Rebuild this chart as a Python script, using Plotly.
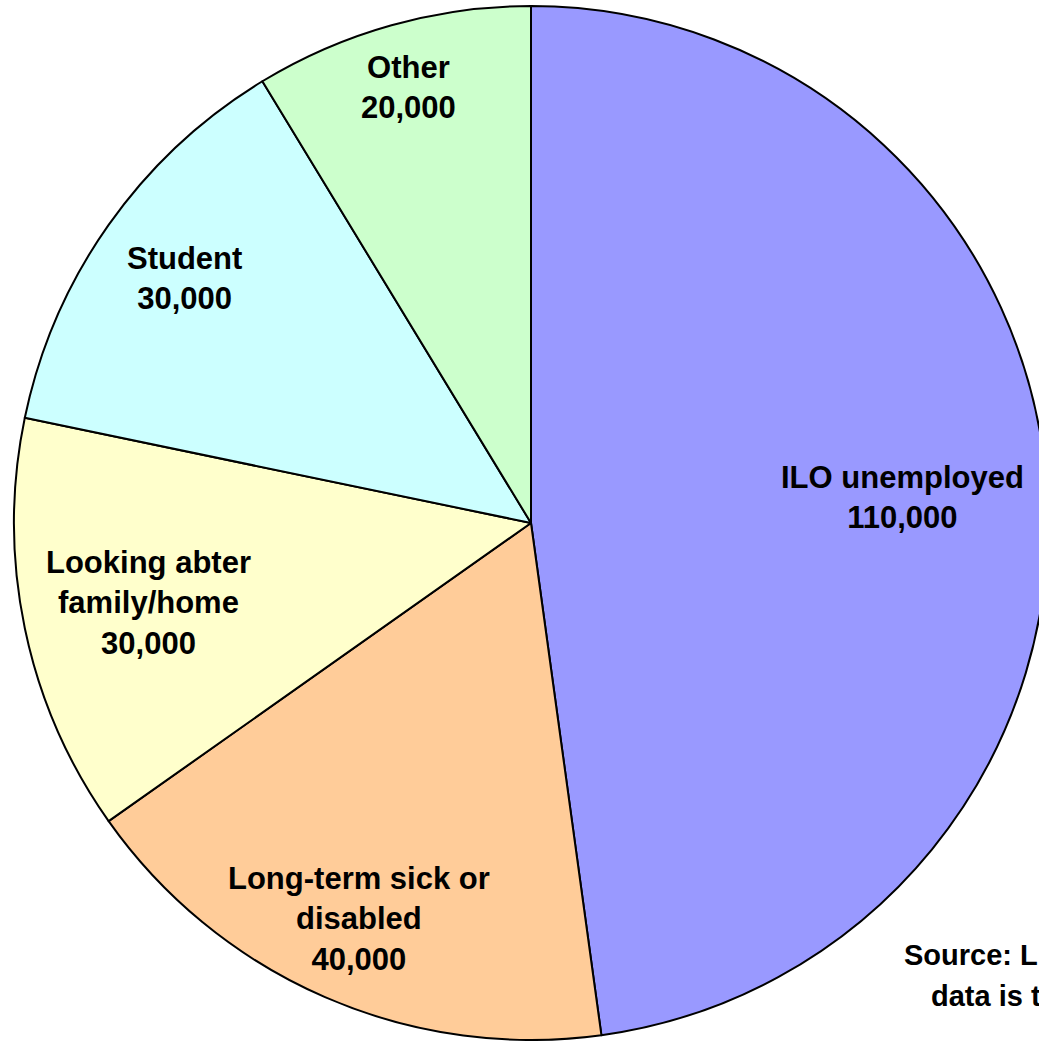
import math
import plotly.graph_objects as go

# data
labels = ["ILO unemployed", "Long-term sick or<br>disabled", "Looking abter<br>family/home", "Student", "Other"]
values = [110000, 40000, 30000, 30000, 20000]
colors = ["#9999FF", "#FFCC99", "#FFFFCC", "#CCFFFF", "#CCFFCC"]

# how far out (fraction of radius) each label sits
label_r = [0.72, 0.835, 0.756, 0.82, 0.875]

W, H = 1100, 1041
cx, cy, R = 531, 523, 517

fig = go.Figure(go.Pie(
    labels=labels,
    values=values,
    marker=dict(colors=colors, line=dict(color="black", width=2)),
    sort=False,
    direction="clockwise",
    rotation=0,
    textinfo="none",
    hoverinfo="label+value",
    domain=dict(x=[(cx - R) / W, (cx + R) / W], y=[max(0, (H - cy - R) / H), (H - cy + R) / H]),
))

# labels placed at each slice's mid-angle
total = sum(values)
start = 0
annotations = []
for lab, val, f in zip(labels, values, label_r):
    mid = (start + val / 2) / total * 2 * math.pi
    start += val
    px = cx + f * R * math.sin(mid)
    py = cy - f * R * math.cos(mid)
    annotations.append(dict(
        x=px / W, y=(H - py) / H, xref="paper", yref="paper",
        xanchor="center", yanchor="middle", showarrow=False,
        text="<b>%s<br>%s</b>" % (lab, format(val, ",")),
        font=dict(size=31, color="black"),
    ))

# source note, cut off by the right edge as in the original
annotations.append(dict(x=902 / W, y=(H - 955) / H, xref="paper", yref="paper",
                        xanchor="left", yanchor="middle", showarrow=False,
                        text="<b>Source: LFS</b>", font=dict(size=29, color="black")))
annotations.append(dict(x=929 / W, y=(H - 996) / H, xref="paper", yref="paper",
                        xanchor="left", yanchor="middle", showarrow=False,
                        text="<b>data is totals</b>", font=dict(size=29, color="black")))

fig.update_layout(
    width=W,
    height=H,
    margin=dict(l=0, r=0, t=0, b=0),
    showlegend=False,
    paper_bgcolor="white",
    font=dict(family="Arial, Liberation Sans, sans-serif"),
    annotations=annotations,
)

fig.write_html("out.html", post_script="document.body.style.margin='0';document.body.style.overflow='hidden';")
